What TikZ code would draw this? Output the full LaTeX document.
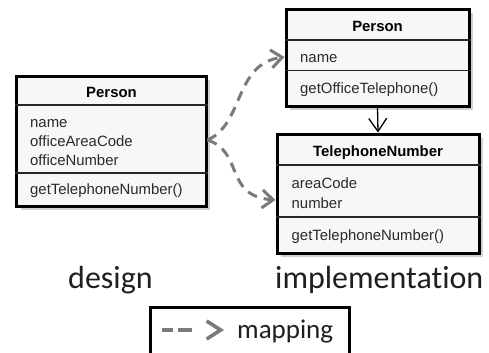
\documentclass[tikz,border=0pt]{standalone}
\usepackage{fontspec}
\setmainfont{Liberation Sans}
\newfontfamily\calib[RawFeature=-liga]{Carlito}
\usetikzlibrary{arrows.meta,shadows}
\definecolor{boxfill}{HTML}{F7F7F7}
\definecolor{txtc}{HTML}{2A2A2A}
\definecolor{mapgray}{HTML}{7A7A7A}
\definecolor{shadowc}{HTML}{D0D0D0}
\begin{document}
\begin{tikzpicture}[x=1bp,y=-1bp,
  umlbox/.style={draw=black,line width=3bp,fill=boxfill,rectangle,inner sep=0pt,
    drop shadow={shadow xshift=4bp,shadow yshift=-4bp,fill=shadowc,opacity=1}},
  divider/.style={draw=black!85,line width=1.3bp},
  hdr/.style={anchor=base,inner sep=0pt,font=\fontsize{14.9bp}{17bp}\selectfont\bfseries,text=black},
  attr/.style={anchor=base west,inner sep=0pt,font=\fontsize{14.9bp}{17bp}\selectfont,text=txtc},
  mapline/.style={draw=mapgray,line width=3bp,dash pattern=on 10bp off 7bp,
    -{Straight Barb[length=11bp,width=18bp,line width=3bp]}},
  legline/.style={draw=mapgray,line width=3.6bp,dash pattern=on 11bp off 5bp on 14bp off 60bp,
    -{Straight Barb[length=14bp,width=18bp,line width=3.6bp]}},
  assoc/.style={draw=black,line width=1.3bp,-{Straight Barb[length=13bp,width=18bp,line width=1.3bp]}},
  biglabel/.style={anchor=base west,inner sep=0pt,font=\calib\fontsize{32bp}{36bp}\selectfont,text=black!88}
]
\useasboundingbox (0,0) rectangle (489,352);
\fill[white] (0,0) rectangle (489,352);

% design Person
\node[umlbox,minimum width=189bp,minimum height=130bp] (pd) at (111.5,141) {};
\draw[divider] (pd.west |- 0,105) -- (pd.east |- 0,105);
\draw[divider] (pd.west |- 0,173) -- (pd.east |- 0,173);
\node[hdr] (pdh) at (111.5,97.5) {Person};
\node[attr] (pdname) at (30,127) {name};
\node[attr] (pdarea) at (30,146) {officeAreaCode};
\node[attr] (pdnum) at (30,165) {officeNumber};
\node[attr] (pdget) at (30,194) {getTelephoneNumber()};

% implementation Person
\node[umlbox,minimum width=183bp,minimum height=97bp] (pi) at (377.5,57.5) {};
\draw[divider] (pi.west |- 0,40) -- (pi.east |- 0,40);
\draw[divider] (pi.west |- 0,70.5) -- (pi.east |- 0,70.5);
\node[hdr] (pih) at (377.5,31) {Person};
\node[attr] (piname) at (300,62.3) {name};
\node[attr] (piget) at (300,93.3) {getOfficeTelephone()};

% TelephoneNumber
\node[umlbox,minimum width=202bp,minimum height=119bp] (tn) at (378,193.5) {};
\draw[divider] (tn.west |- 0,165) -- (tn.east |- 0,165);
\draw[divider] (tn.west |- 0,217) -- (tn.east |- 0,217);
\node[hdr] (tnh) at (378,156.7) {TelephoneNumber};
\node[attr] (tnarea) at (291.5,188.3) {areaCode};
\node[attr] (tnnum) at (291.5,208.3) {number};
\node[attr] (tnget) at (291.5,240) {getTelephoneNumber()};

% association
\draw[assoc] (pi.south) -- (tn.north);

% mappings
\coordinate (msrc) at (pd.east |- 0,140);
\coordinate (mup) at (pi.west |- 0,57);
\coordinate (mdown) at (tn.west |- 0,200);
\draw[mapline] (msrc) .. controls (244,124) and (234,64) .. (mup);
\draw[mapline] (msrc) .. controls (244,152) and (224,196) .. (mdown);

% labels
\node[biglabel] (ldesign) at (68,288) {design};
\node[biglabel] (limpl) at (275,288) {implementation};

% legend
\node[draw=black,line width=3bp,fill=white,rectangle,inner sep=0pt,minimum width=199bp,minimum height=60bp] (leg) at (249.5,337) {};
\coordinate (la) at (162,330);
\coordinate (lb) at (224,330);
\draw[legline] (la) -- (lb);
\node[anchor=base west,inner sep=0pt,font=\calib\fontsize{27bp}{30bp}\selectfont,text=black!88] (lmap) at (237,338) {mapping};
\end{tikzpicture}
\end{document}
